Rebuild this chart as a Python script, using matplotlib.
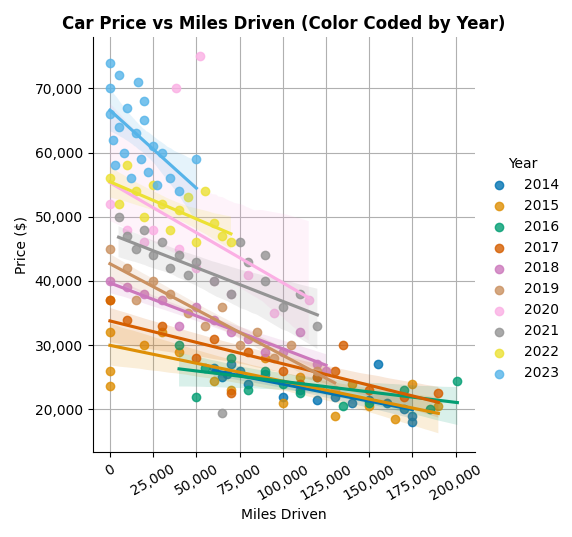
import pandas as pd
import matplotlib
matplotlib.use("Agg")
import matplotlib.pyplot as plt
import seaborn as sns
from matplotlib.ticker import FuncFormatter

# (miles, price) por año, leídos a ojo del gráfico
p2014 = [(60e3,26.5e3),(65e3,25e3),(70e3,27e3),(75e3,26e3),(80e3,24e3),(90e3,25.5e3),(100e3,22e3),(110e3,23e3),
         (120e3,21.5e3),(130e3,22e3),(140e3,21e3),(150e3,21.5e3),(155e3,27e3),(160e3,21e3),(170e3,20e3),(175e3,18e3),(175e3,19e3),(68e3,25.5e3)]
p2015 = [(0,26e3),(0,23.7e3),(0,32e3),(0,37e3),(20e3,30e3),(40e3,29e3),(60e3,24.5e3),(70e3,23e3),(90e3,28e3),(100e3,21e3),
         (110e3,25e3),(130e3,19e3),(140e3,24e3),(150e3,20.5e3),(165e3,18.5e3),(175e3,24e3),(190e3,20.5e3),(30e3,32e3)]
p2016 = [(40e3,30e3),(50e3,22e3),(55e3,26.5e3),(70e3,28e3),(80e3,23e3),(90e3,26e3),(100e3,24e3),(110e3,22.5e3),
         (120e3,25e3),(135e3,20.5e3),(150e3,21e3),(170e3,23e3),(185e3,20e3),(201e3,24.5e3)]
p2017 = [(0,37e3),(10e3,34e3),(30e3,33e3),(50e3,28e3),(60e3,31e3),(80e3,29e3),(100e3,26e3),(110e3,24e3),(120e3,25e3),
         (130e3,26e3),(135e3,30e3),(150e3,23e3),(170e3,22e3),(190e3,22.5e3),(70e3,22.5e3)]
p2018 = [(0,40e3),(10e3,39e3),(20e3,38e3),(30e3,37e3),(40e3,33e3),(50e3,36e3),(60e3,34e3),(70e3,32e3),(80e3,31e3),
         (90e3,29e3),(100e3,29e3),(110e3,32e3),(120e3,27e3),(125e3,26e3)]
p2019 = [(0,45e3),(10e3,42e3),(15e3,37e3),(25e3,40e3),(35e3,38e3),(45e3,35e3),(55e3,33e3),(65e3,36e3),(75e3,30e3),
         (85e3,32e3),(95e3,28e3),(105e3,30e3),(120e3,26e3),(130e3,23e3)]
p2020 = [(0,52e3),(10e3,48e3),(20e3,46e3),(38e3,70e3),(52e3,75e3),(40e3,45e3),(50e3,42e3),(60e3,40e3),(70e3,38e3),
         (80e3,41e3),(95e3,35e3),(115e3,37e3),(25e3,48e3)]
p2021 = [(5e3,50e3),(10e3,47e3),(15e3,45e3),(20e3,48e3),(25e3,44e3),(30e3,46e3),(35e3,42e3),(40e3,44e3),(45e3,41e3),
         (50e3,43e3),(60e3,40e3),(70e3,38e3),(80e3,43e3),(90e3,40e3),(100e3,36e3),(110e3,38e3),(120e3,33e3),
         (65e3,19.5e3),(75e3,46e3),(90e3,44e3)]
p2022 = [(0,56e3),(5e3,52e3),(10e3,58e3),(15e3,54e3),(20e3,50e3),(25e3,55e3),(30e3,52e3),(35e3,48e3),(40e3,51e3),
         (45e3,53e3),(50e3,46e3),(55e3,54e3),(60e3,49e3),(65e3,47e3),(70e3,46e3)]
p2023 = [(0,74e3),(0,70e3),(0,66e3),(2e3,62e3),(3e3,58e3),(5e3,72e3),(5e3,64e3),(8e3,60e3),(10e3,67e3),(12e3,56e3),
         (15e3,63e3),(16e3,71e3),(18e3,59e3),(20e3,65e3),(22e3,57e3),(25e3,61e3),(27e3,55e3),(30e3,60e3),(35e3,56e3),
         (40e3,54e3),(50e3,59e3),(20e3,68e3)]

puntos = {2014: p2014, 2015: p2015, 2016: p2016, 2017: p2017, 2018: p2018,
          2019: p2019, 2020: p2020, 2021: p2021, 2022: p2022, 2023: p2023}

filas = [(x, y, anio) for anio, pts in puntos.items() for x, y in pts]
datos = pd.DataFrame(filas, columns=["Miles Driven", "Price ($)", "Year"])

g = sns.lmplot(data=datos, x="Miles Driven", y="Price ($)", hue="Year",
               palette="colorblind", height=5, aspect=1)
ax = g.ax
ax.grid(True)
ax.set_axisbelow(True)
ax.set_title("Car Price vs Miles Driven (Color Coded by Year)", fontweight="bold", fontsize=12)
ax.xaxis.set_major_formatter(FuncFormatter(lambda v, p: f"{int(v):,}"))
ax.yaxis.set_major_formatter(FuncFormatter(lambda v, p: f"{int(v):,}"))
ax.set_xticks(range(0, 200001, 25000))
plt.setp(ax.get_xticklabels(), rotation=30)
g.figure.set_size_inches(5.72, 5.37)
g.figure.tight_layout()
g.figure.subplots_adjust(right=0.83)
g.figure.savefig("out.png", dpi=100)
